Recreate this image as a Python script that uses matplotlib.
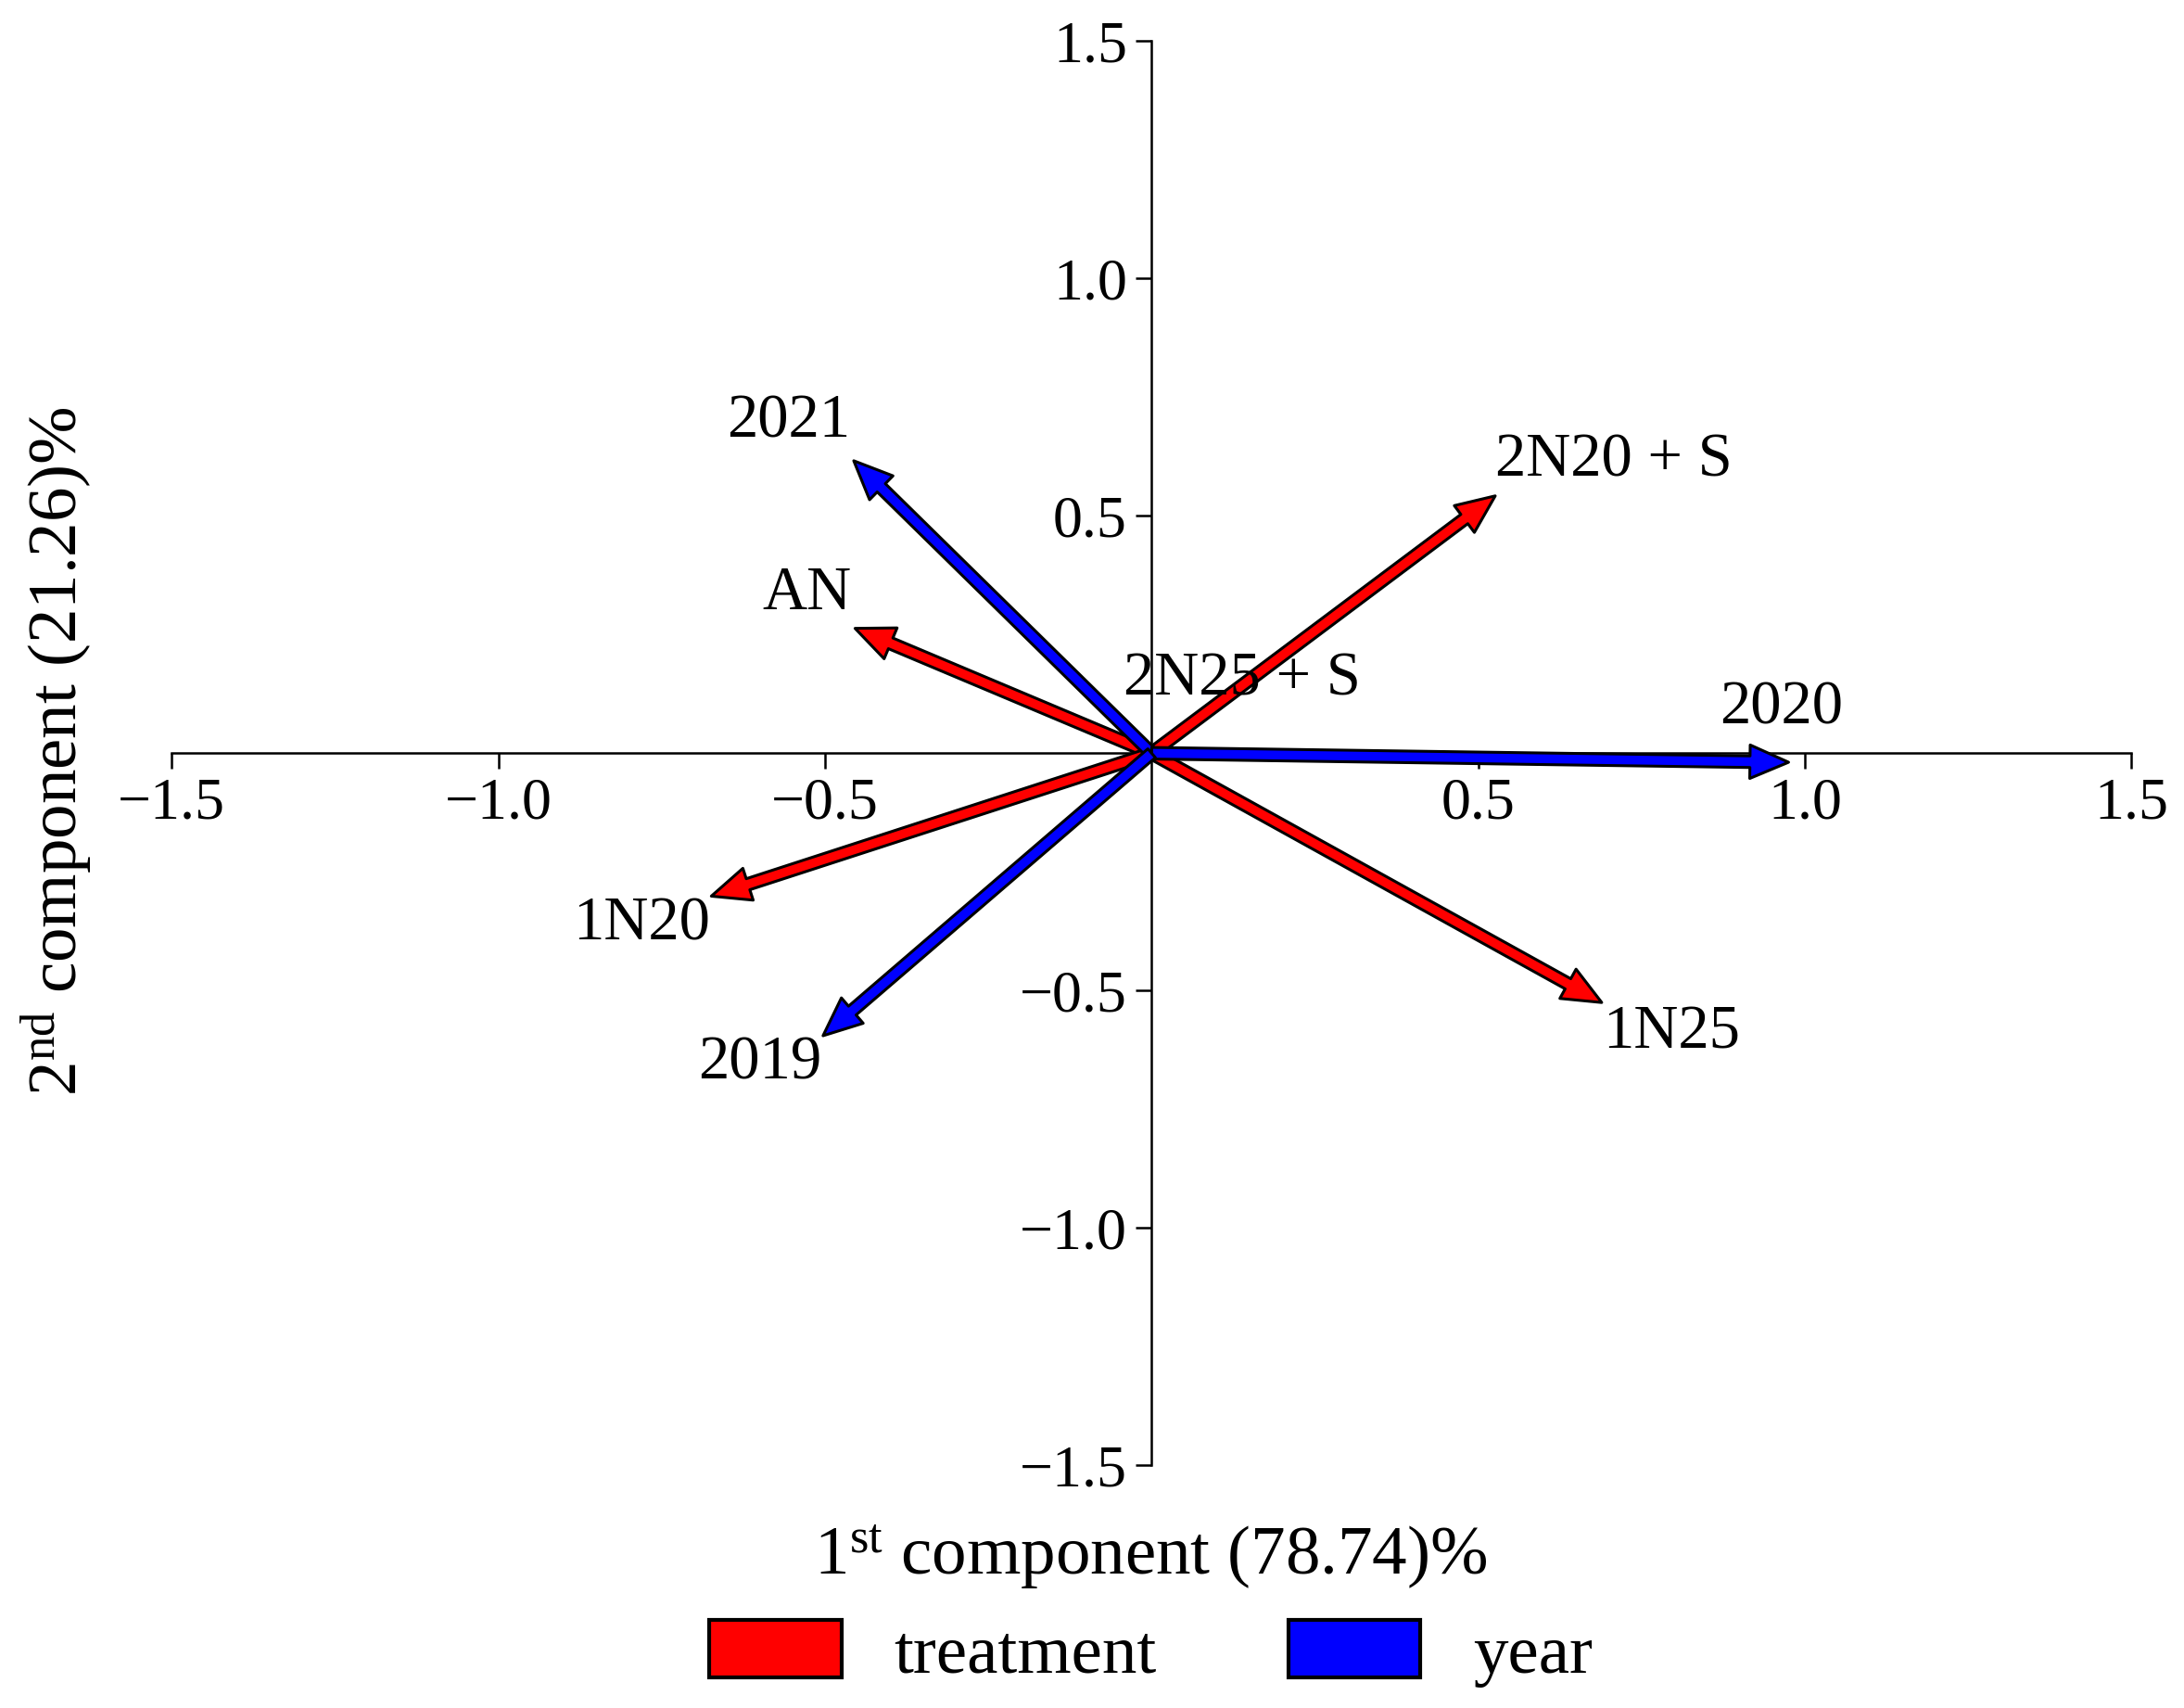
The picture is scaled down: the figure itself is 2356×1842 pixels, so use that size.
import matplotlib
matplotlib.use("Agg")
import matplotlib.pyplot as plt
from matplotlib.patches import FancyArrowPatch, Patch

plt.rcParams['font.family'] = ['Liberation Serif', 'DejaVu Serif']
plt.rcParams['mathtext.fontset'] = 'custom'
plt.rcParams['mathtext.rm'] = 'Liberation Serif'
plt.rcParams['axes.unicode_minus'] = True

# loadings
treat_names = ['AN', '2N20 + S', '1N20', '1N25', '2N25 + S']
treat_x = [-0.454, 0.526, -0.674, 0.689, -0.015]
treat_y = [0.263, 0.542, -0.301, -0.525, 0.004]
treat_lx = [-0.528, 0.708, -0.781, 0.796, 0.138]
treat_ly = [0.336, 0.615, -0.360, -0.589, 0.154]

year_names = ['2021', '2020', '2019']
year_x = [-0.456, 0.975, -0.503]
year_y = [0.616, -0.019, -0.595]
year_lx = [-0.556, 0.964, -0.599]
year_ly = [0.698, 0.095, -0.654]

ticks = [-1.5, -1.0, -0.5, 0.5, 1.0, 1.5]

fig = plt.figure(figsize=(11.78, 9.21), dpi=200)
ax = fig.add_axes([0.0786, 0.142, 0.8974, 0.834])
ax.set_xlim(-1.5, 1.5)
ax.set_ylim(-1.5, 1.5)

for s in ['top', 'right']:
    ax.spines[s].set_visible(False)
ax.spines['left'].set_position('zero')
ax.spines['bottom'].set_position('zero')
for s in ['left', 'bottom']:
    ax.spines[s].set_linewidth(0.9)
ax.set_xticks(ticks)
ax.set_yticks(ticks)
ax.set_xticklabels([f'{t:.1f}'.replace('-', '\u2212') for t in ticks])
ax.set_yticklabels([f'{t:.1f}'.replace('-', '\u2212') for t in ticks])
ax.tick_params(labelsize=23, length=6, width=0.9, direction='out')


def draw(xs, ys, lxs, lys, names, color):
    for x, y, lx, ly, n in zip(xs, ys, lxs, lys, names):
        if abs(x) + abs(y) < 0.05:
            style = 'simple,head_width=5,head_length=4,tail_width=3'
        else:
            style = 'simple,head_width=13,head_length=15,tail_width=4.5'
        arr = FancyArrowPatch((0, 0), (x, y), arrowstyle=style,
                              fc=color, ec='black', lw=1.1,
                              shrinkA=0, shrinkB=0, mutation_scale=1, zorder=3)
        ax.add_patch(arr)
        ax.text(lx, ly, n, fontsize=24, ha='center', va='center', zorder=4)


draw(treat_x, treat_y, treat_lx, treat_ly, treat_names, '#ff0000')
draw(year_x, year_y, year_lx, year_ly, year_names, '#0000ff')

fig.text(0.527, 0.088, r'$\mathregular{1^{st}}$ component (78.74)%', fontsize=27,
         ha='center', va='center')
fig.text(0.026, 0.56, r'$\mathregular{2^{nd}}$ component (21.26)%', fontsize=27,
         ha='center', va='center', rotation=90)

handles = [Patch(fc='#ff0000', ec='black', lw=1.5, label='treatment'),
           Patch(fc='#0000ff', ec='black', lw=1.5, label='year')]
fig.legend(handles=handles, loc='center', bbox_to_anchor=(0.527, 0.032), ncol=2,
           frameon=False, fontsize=27, handlelength=1.9, handleheight=0.9,
           handletextpad=0.75, columnspacing=1.9)

fig.savefig('out.png', dpi=200)
